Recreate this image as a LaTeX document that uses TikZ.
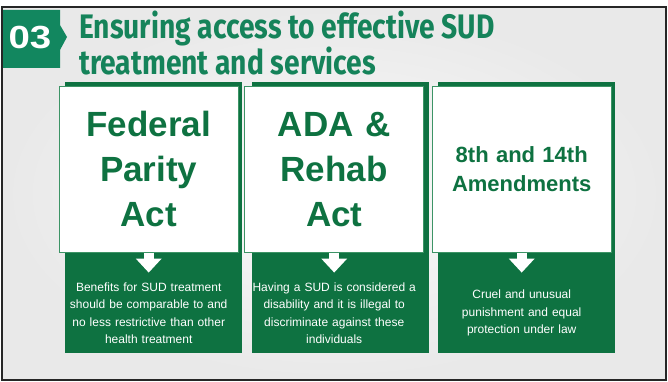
\documentclass[tikz,border=0pt]{standalone}
\usepackage{fontspec}
\usepackage{graphicx}
\setmainfont{Liberation Sans}
\newfontfamily\headfont{Fira Sans}
\usetikzlibrary{positioning, arrows.meta, calc}

\definecolor{boxgreen}{HTML}{0E7241}
\definecolor{edgegreen}{HTML}{3D9466}
\definecolor{headgreen}{HTML}{15835A}
\definecolor{badgegreen}{HTML}{12875F}
\definecolor{bggray}{HTML}{E9E9E9}

\begin{document}
\begin{tikzpicture}[x=1pt, y=-1pt, node distance=186.5pt]
    \tikzstyle{panel} = [rectangle, fill=boxgreen, minimum width=177pt, minimum height=271pt, inner sep=0pt]
    \tikzstyle{titlebox} = [rectangle, fill=white, draw=edgegreen, line width=0.8pt, minimum width=179pt, minimum height=166pt, text width=172pt, align=center, text=boxgreen, inner sep=0pt]
    \tikzstyle{bigtitle} = [font=\fontsize{35}{45}\selectfont\bfseries]
    \tikzstyle{desc} = [text width=176pt, align=center, text=white, inner sep=0pt, font=\fontsize{12}{17.5}\selectfont]
    \tikzstyle{arrow} = [line width=10pt, white, -{Triangle[width=25pt, length=14pt]}]

    % page, background and frame
    \useasboundingbox (0,0) rectangle (668,382);
    \fill[white] (0,0) rectangle (668,382);
    \shade[inner color=gray!4, outer color=bggray] (3,8) rectangle (665,379);
    \draw[line width=2pt, black!85] (2,7) rectangle (666,380);

    % number badge and heading
    \fill[badgegreen] (3,10) -- (60,10) -- (60,25) -- (67,37) -- (60,50) -- (60,68) -- (3,68) -- cycle;
    \node (num) [text=white, font=\fontsize{32}{32}\selectfont\bfseries] at (30,38) {\scalebox{1.2}[1]{03}};
    \node (heading) [anchor=north west, align=left, inner sep=0pt, text=headgreen, font=\headfont\fontsize{34}{33}\selectfont\bfseries] at (79,11)
        {\scalebox{0.83}[1]{Ensuring access to effective SUD}\\\scalebox{0.83}[1]{treatment and services}};

    % green panels
    \node (fedpanel) [panel] at (153.5,217.5) {};
    \node (adapanel) [panel, right of=fedpanel] {};
    \node (amdpanel) [panel, right of=adapanel] {};

    % white title boxes
    \node (fed) [titlebox, bigtitle, anchor=north west] at ([xshift=-6pt, yshift=-4pt]fedpanel.north west) {Federal\\Parity\\Act};
    \node (ada) [titlebox, bigtitle, anchor=north west] at ([xshift=-7pt, yshift=-4pt]adapanel.north west) {ADA \&\\Rehab\\Act};
    \node (amd) [titlebox, anchor=north west, font=\fontsize{22}{29}\selectfont\bfseries] at ([xshift=-6pt, yshift=-4pt]amdpanel.north west) {8th and 14th\\Amendments};

    % descriptions
    \node (feddesc) [desc] at (fed.center |- 0,313) {Benefits for SUD treatment\\should be comparable to and\\no less restrictive than other\\health treatment};
    \node (adadesc) [desc] at (ada.center |- 0,313) {Having a SUD is considered a\\disability and it is illegal to\\discriminate against these\\individuals};
    \node (amddesc) [desc] at (amd.center |- 0,313) {Cruel and unusual\\punishment and equal\\protection under law};

    \coordinate (fedtip) at ([yshift=-20pt]fed.south);
    \coordinate (adatip) at ([yshift=-20pt]ada.south);
    \coordinate (amdtip) at ([yshift=-20pt]amd.south);

    \draw [arrow] (fed.south) -- (fedtip);
    \draw [arrow] (ada.south) -- (adatip);
    \draw [arrow] (amd.south) -- (amdtip);
\end{tikzpicture}
\end{document}
